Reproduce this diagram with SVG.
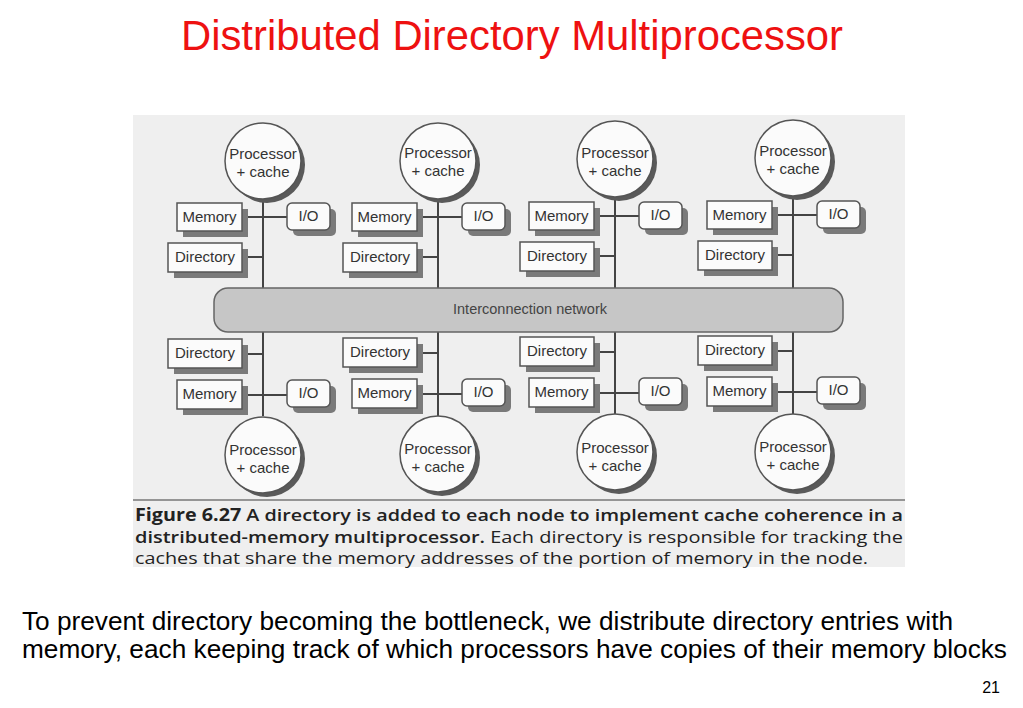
<svg xmlns="http://www.w3.org/2000/svg" width="1023" height="708" viewBox="0 0 1023 708">
<style>
.box{fill:#fbfbfb;stroke:#555;stroke-width:1.5}
.shd{fill:#7a7a7a}
.cshd{fill:#5a5a5a}
.lbl{font-family:"Liberation Sans",Arial,sans-serif;font-size:15px;fill:#333;text-anchor:middle}
.con{stroke:#444;stroke-width:2;fill:none}
.cap{font-family:"Open Sans","Liberation Sans",sans-serif;font-size:17px;fill:#222}
.body{font-family:"Liberation Sans",Arial,sans-serif;font-size:25px;fill:#000}
</style>
<rect width="1023" height="708" fill="#ffffff"/>
<text x="512" y="50" text-anchor="middle" font-family="Liberation Sans, Arial, sans-serif" font-size="43" fill="#ee1111" textLength="662" lengthAdjust="spacingAndGlyphs">Distributed Directory Multiprocessor</text>
<rect x="133" y="115" width="772" height="452" fill="#efefef"/>
<g id="connectors">
<line class="con" x1="263" y1="199" x2="263" y2="288"/><line class="con" x1="242" y1="217" x2="287" y2="217"/><line class="con" x1="242" y1="257" x2="263" y2="257"/>
<line class="con" x1="438" y1="199" x2="438" y2="288"/><line class="con" x1="417" y1="217" x2="462" y2="217"/><line class="con" x1="417" y1="257" x2="438" y2="257"/>
<line class="con" x1="615" y1="197" x2="615" y2="288"/><line class="con" x1="594" y1="216" x2="639" y2="216"/><line class="con" x1="594" y1="256" x2="615" y2="256"/>
<line class="con" x1="793" y1="196" x2="793" y2="288"/><line class="con" x1="772" y1="215" x2="817" y2="215"/><line class="con" x1="772" y1="255" x2="793" y2="255"/>
<line class="con" x1="263" y1="332" x2="263" y2="416"/><line class="con" x1="242" y1="395" x2="287" y2="395"/><line class="con" x1="242" y1="354" x2="263" y2="354"/>
<line class="con" x1="438" y1="332" x2="438" y2="416"/><line class="con" x1="417" y1="394" x2="462" y2="394"/><line class="con" x1="417" y1="353" x2="438" y2="353"/>
<line class="con" x1="615" y1="332" x2="615" y2="414"/><line class="con" x1="594" y1="393" x2="639" y2="393"/><line class="con" x1="594" y1="352" x2="615" y2="352"/>
<line class="con" x1="793" y1="332" x2="793" y2="414"/><line class="con" x1="772" y1="392" x2="817" y2="392"/><line class="con" x1="772" y1="351" x2="793" y2="351"/>
</g>
<g id="network">
<rect x="214" y="288" width="629" height="44" rx="14" fill="#c6c6c6" stroke="#666" stroke-width="1.5"/>
<text x="530" y="314" class="lbl" style="fill:#444;font-size:14.5px">Interconnection network</text>
</g>
<g id="proc1"><circle cx="267" cy="165" r="38" class="cshd"/><circle cx="263" cy="161" r="38" class="box"/><text x="263" y="159" class="lbl">Processor</text><text x="263" y="177" class="lbl">+ cache</text></g>
<g id="mem1"><rect x="183" y="209" width="65" height="28" class="shd"/><rect x="177" y="203" width="65" height="28" class="box"/><text x="209.5" y="222" class="lbl">Memory</text></g>
<g id="io1"><rect x="293" y="209" width="43" height="27" rx="5" class="shd"/><rect x="287" y="203" width="43" height="27" rx="5" class="box"/><text x="308.5" y="221" class="lbl">I/O</text></g>
<g id="dir1"><rect x="174" y="249" width="74" height="29" class="shd"/><rect x="168" y="243" width="74" height="29" class="box"/><text x="205" y="262" class="lbl">Directory</text></g>

<g id="proc2"><circle cx="442" cy="165" r="38" class="cshd"/><circle cx="438" cy="161" r="38" class="box"/><text x="438" y="158" class="lbl">Processor</text><text x="438" y="176" class="lbl">+ cache</text></g>
<g id="mem2"><rect x="358" y="209" width="65" height="28" class="shd"/><rect x="352" y="203" width="65" height="28" class="box"/><text x="384.5" y="222" class="lbl">Memory</text></g>
<g id="io2"><rect x="468" y="209" width="43" height="27" rx="5" class="shd"/><rect x="462" y="203" width="43" height="27" rx="5" class="box"/><text x="483.5" y="221" class="lbl">I/O</text></g>
<g id="dir2"><rect x="349" y="249" width="74" height="29" class="shd"/><rect x="343" y="243" width="74" height="29" class="box"/><text x="380" y="262" class="lbl">Directory</text></g>

<g id="proc3"><circle cx="619" cy="163" r="38" class="cshd"/><circle cx="615" cy="159" r="38" class="box"/><text x="615" y="158" class="lbl">Processor</text><text x="615" y="176" class="lbl">+ cache</text></g>
<g id="mem3"><rect x="535" y="208" width="65" height="28" class="shd"/><rect x="529" y="202" width="65" height="28" class="box"/><text x="561.5" y="221" class="lbl">Memory</text></g>
<g id="io3"><rect x="645" y="208" width="43" height="27" rx="5" class="shd"/><rect x="639" y="202" width="43" height="27" rx="5" class="box"/><text x="660.5" y="220" class="lbl">I/O</text></g>
<g id="dir3"><rect x="526" y="248" width="74" height="29" class="shd"/><rect x="520" y="242" width="74" height="29" class="box"/><text x="557" y="261" class="lbl">Directory</text></g>

<g id="proc4"><circle cx="797" cy="162" r="38" class="cshd"/><circle cx="793" cy="158" r="38" class="box"/><text x="793" y="156" class="lbl">Processor</text><text x="793" y="174" class="lbl">+ cache</text></g>
<g id="mem4"><rect x="713" y="207" width="65" height="28" class="shd"/><rect x="707" y="201" width="65" height="28" class="box"/><text x="739.5" y="220" class="lbl">Memory</text></g>
<g id="io4"><rect x="823" y="207" width="43" height="27" rx="5" class="shd"/><rect x="817" y="201" width="43" height="27" rx="5" class="box"/><text x="838.5" y="219" class="lbl">I/O</text></g>
<g id="dir4"><rect x="704" y="247" width="74" height="29" class="shd"/><rect x="698" y="241" width="74" height="29" class="box"/><text x="735" y="260" class="lbl">Directory</text></g>

<g id="dir5"><rect x="174" y="345" width="74" height="29" class="shd"/><rect x="168" y="339" width="74" height="29" class="box"/><text x="205" y="358" class="lbl">Directory</text></g>
<g id="mem5"><rect x="183" y="386" width="65" height="29" class="shd"/><rect x="177" y="380" width="65" height="29" class="box"/><text x="209.5" y="399" class="lbl">Memory</text></g>
<g id="io5"><rect x="293" y="386" width="43" height="27" rx="5" class="shd"/><rect x="287" y="380" width="43" height="27" rx="5" class="box"/><text x="308.5" y="398" class="lbl">I/O</text></g>
<g id="proc5"><circle cx="267" cy="459" r="38" class="cshd"/><circle cx="263" cy="455" r="38" class="box"/><text x="263" y="455" class="lbl">Processor</text><text x="263" y="473" class="lbl">+ cache</text></g>

<g id="dir6"><rect x="349" y="344" width="74" height="29" class="shd"/><rect x="343" y="338" width="74" height="29" class="box"/><text x="380" y="357" class="lbl">Directory</text></g>
<g id="mem6"><rect x="358" y="385" width="65" height="29" class="shd"/><rect x="352" y="379" width="65" height="29" class="box"/><text x="384.5" y="398" class="lbl">Memory</text></g>
<g id="io6"><rect x="468" y="385" width="43" height="27" rx="5" class="shd"/><rect x="462" y="379" width="43" height="27" rx="5" class="box"/><text x="483.5" y="397" class="lbl">I/O</text></g>
<g id="proc6"><circle cx="442" cy="458" r="38" class="cshd"/><circle cx="438" cy="454" r="38" class="box"/><text x="438" y="454" class="lbl">Processor</text><text x="438" y="472" class="lbl">+ cache</text></g>

<g id="dir7"><rect x="526" y="343" width="74" height="29" class="shd"/><rect x="520" y="337" width="74" height="29" class="box"/><text x="557" y="356" class="lbl">Directory</text></g>
<g id="mem7"><rect x="535" y="384" width="65" height="29" class="shd"/><rect x="529" y="378" width="65" height="29" class="box"/><text x="561.5" y="397" class="lbl">Memory</text></g>
<g id="io7"><rect x="645" y="384" width="43" height="27" rx="5" class="shd"/><rect x="639" y="378" width="43" height="27" rx="5" class="box"/><text x="660.5" y="396" class="lbl">I/O</text></g>
<g id="proc7"><circle cx="619" cy="456" r="38" class="cshd"/><circle cx="615" cy="452" r="38" class="box"/><text x="615" y="453" class="lbl">Processor</text><text x="615" y="471" class="lbl">+ cache</text></g>

<g id="dir8"><rect x="704" y="342" width="74" height="29" class="shd"/><rect x="698" y="336" width="74" height="29" class="box"/><text x="735" y="355" class="lbl">Directory</text></g>
<g id="mem8"><rect x="713" y="383" width="65" height="29" class="shd"/><rect x="707" y="377" width="65" height="29" class="box"/><text x="739.5" y="396" class="lbl">Memory</text></g>
<g id="io8"><rect x="823" y="383" width="43" height="27" rx="5" class="shd"/><rect x="817" y="377" width="43" height="27" rx="5" class="box"/><text x="838.5" y="395" class="lbl">I/O</text></g>
<g id="proc8"><circle cx="797" cy="456" r="38" class="cshd"/><circle cx="793" cy="452" r="38" class="box"/><text x="793" y="452" class="lbl">Processor</text><text x="793" y="470" class="lbl">+ cache</text></g>

<g id="caption">
<line x1="133" y1="500" x2="905" y2="500" stroke="#777" stroke-width="1.5"/>
<text x="135" y="521" class="cap" textLength="768" lengthAdjust="spacingAndGlyphs"><tspan font-weight="bold">Figure 6.27</tspan><tspan font-weight="600">  A directory is added to each node to implement cache coherence in a</tspan></text>
<text x="135" y="543" class="cap" textLength="768" lengthAdjust="spacingAndGlyphs"><tspan font-weight="600">distributed-memory multiprocessor.</tspan> Each directory is responsible for tracking the</text>
<text x="135" y="564" class="cap" textLength="733" lengthAdjust="spacingAndGlyphs">caches that share the memory addresses of the portion of memory in the node.</text>
</g>
<text x="22" y="630" class="body" textLength="931" lengthAdjust="spacingAndGlyphs">To prevent directory becoming the bottleneck, we distribute directory entries with</text>
<text x="22" y="658" class="body" textLength="985" lengthAdjust="spacingAndGlyphs">memory, each keeping track of which processors have copies of their memory blocks</text>
<text x="1000" y="693" text-anchor="end" font-family="Liberation Sans, Arial, sans-serif" font-size="16" fill="#000">21</text>
</svg>
